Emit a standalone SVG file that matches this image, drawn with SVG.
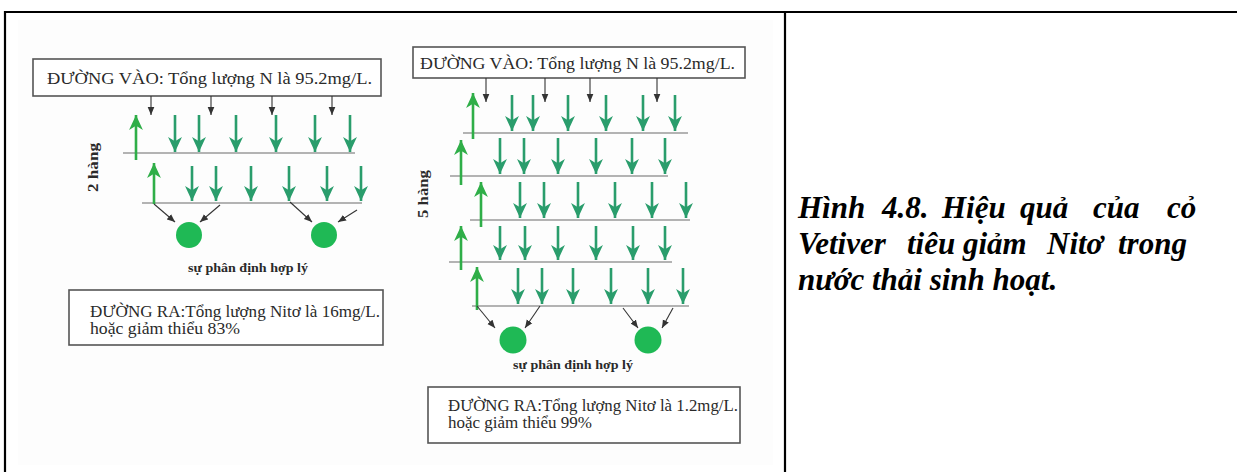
<svg xmlns="http://www.w3.org/2000/svg" width="1237" height="472" viewBox="0 0 1237 472">
<style>
.t{font-family:"Liberation Serif","Times New Roman",serif;fill:#2a2a2a}
.box{fill:#fff;stroke:#555;stroke-width:1.6}
.row{stroke:#6a6a6a;stroke-width:1.2}
.dn{stroke:#2a9d6c;stroke-width:2.6;marker-end:url(#gdn)}
.up{stroke:#2fae48;stroke-width:2.6;marker-end:url(#gup)}
.bk{stroke:#333;stroke-width:1.1;marker-end:url(#bh)}
.dot{fill:#1fb955}
.cap{font-family:"Liberation Serif","Times New Roman",serif;font-weight:bold;font-style:italic;font-size:31px;fill:#000}
</style>
<defs>
<marker id="gdn" markerUnits="userSpaceOnUse" markerWidth="16" markerHeight="16" viewBox="0 -7 15 14" refX="14" refY="0" orient="auto">
<path d="M0,-6.5 L14,0 L0,6.5 L4,0 z" fill="#2a9d6c"/>
</marker>
<marker id="gup" markerUnits="userSpaceOnUse" markerWidth="16" markerHeight="16" viewBox="0 -7 15 14" refX="14" refY="0" orient="auto">
<path d="M0,-6.5 L14,0 L0,6.5 L4,0 z" fill="#2fae48"/>
</marker>
<marker id="bh" markerUnits="userSpaceOnUse" markerWidth="8" markerHeight="8" viewBox="0 -3 6 6" refX="6" refY="0" orient="auto">
<path d="M0,-2.5 L6,0 L0,2.5 z" fill="#333"/>
</marker>
</defs>
<rect width="1237" height="472" fill="#fff"/>
<rect x="18" y="20" width="755" height="445" fill="#fdfdfd"/>
<g id="frame" stroke="#000" stroke-width="2.2">
<line x1="4" y1="12" x2="1237" y2="12"/>
<line x1="5" y1="11" x2="5" y2="472"/>
<line x1="785" y1="11" x2="785" y2="472"/>
</g>

<g id="left-input">
<rect class="box" x="33" y="59" width="348" height="37"/>
<text class="t" x="47" y="84" font-size="17" textLength="325" lengthAdjust="spacingAndGlyphs">ĐƯỜNG VÀO: Tổng lượng N là 95.2mg/L.</text>
</g>
<g id="right-input">
<rect class="box" x="413" y="47" width="332" height="31"/>
<text class="t" x="420" y="69" font-size="16" textLength="315" lengthAdjust="spacingAndGlyphs">ĐƯỜNG VÀO: Tổng lượng N là 95.2mg/L.</text>
</g>

<g id="left-rows">
<line class="row" x1="123" y1="153" x2="355" y2="153"/>
<line class="row" x1="142" y1="203" x2="362" y2="203"/>
</g>
<g id="right-rows">
<line class="row" x1="463" y1="133" x2="688" y2="133"/>
<line class="row" x1="450" y1="176" x2="668" y2="176"/>
<line class="row" x1="470" y1="220" x2="690" y2="220"/>
<line class="row" x1="449" y1="262" x2="672" y2="262"/>
<line class="row" x1="472" y1="306" x2="689" y2="306"/>
</g>

<g id="left-plants">
<line class="up" x1="136" y1="160" x2="136" y2="115"/>
<line class="dn" x1="175" y1="115" x2="175" y2="152"/>
<line class="dn" x1="199" y1="115" x2="199" y2="152"/>
<line class="dn" x1="236" y1="115" x2="236" y2="152"/>
<line class="dn" x1="276" y1="115" x2="276" y2="152"/>
<line class="dn" x1="315" y1="115" x2="315" y2="152"/>
<line class="dn" x1="350" y1="115" x2="350" y2="152"/>
<line class="up" x1="154" y1="204" x2="154" y2="163"/>
<line class="dn" x1="192" y1="166" x2="192" y2="201"/>
<line class="dn" x1="216" y1="166" x2="216" y2="201"/>
<line class="dn" x1="251" y1="166" x2="251" y2="201"/>
<line class="dn" x1="289" y1="166" x2="289" y2="201"/>
<line class="dn" x1="327" y1="166" x2="327" y2="201"/>
<line class="dn" x1="361" y1="166" x2="361" y2="201"/>
</g>

<g id="right-plants">
<line class="up" x1="473" y1="139" x2="473" y2="93"/>
<line class="dn" x1="512" y1="95" x2="512" y2="131"/>
<line class="dn" x1="533" y1="95" x2="533" y2="131"/>
<line class="dn" x1="568" y1="95" x2="568" y2="131"/>
<line class="dn" x1="606" y1="95" x2="606" y2="131"/>
<line class="dn" x1="643" y1="95" x2="643" y2="131"/>
<line class="dn" x1="675" y1="95" x2="675" y2="131"/>
<line class="up" x1="461" y1="185" x2="461" y2="140"/>
<line class="dn" x1="500" y1="138" x2="500" y2="174"/>
<line class="dn" x1="524" y1="138" x2="524" y2="174"/>
<line class="dn" x1="558" y1="138" x2="558" y2="174"/>
<line class="dn" x1="596" y1="138" x2="596" y2="174"/>
<line class="dn" x1="632" y1="138" x2="632" y2="174"/>
<line class="dn" x1="665" y1="138" x2="665" y2="174"/>
<line class="up" x1="481" y1="227" x2="481" y2="182"/>
<line class="dn" x1="520" y1="182" x2="520" y2="218"/>
<line class="dn" x1="544" y1="182" x2="544" y2="218"/>
<line class="dn" x1="578" y1="182" x2="578" y2="218"/>
<line class="dn" x1="615" y1="182" x2="615" y2="218"/>
<line class="dn" x1="652" y1="182" x2="652" y2="218"/>
<line class="dn" x1="686" y1="182" x2="686" y2="218"/>
<line class="up" x1="461" y1="270" x2="461" y2="226"/>
<line class="dn" x1="500" y1="226" x2="500" y2="260"/>
<line class="dn" x1="525" y1="226" x2="525" y2="260"/>
<line class="dn" x1="558" y1="226" x2="558" y2="260"/>
<line class="dn" x1="596" y1="226" x2="596" y2="260"/>
<line class="dn" x1="633" y1="226" x2="633" y2="260"/>
<line class="dn" x1="665" y1="226" x2="665" y2="260"/>
<line class="up" x1="477" y1="310" x2="477" y2="267"/>
<line class="dn" x1="518" y1="268" x2="518" y2="304"/>
<line class="dn" x1="542" y1="268" x2="542" y2="304"/>
<line class="dn" x1="573" y1="268" x2="573" y2="304"/>
<line class="dn" x1="611" y1="268" x2="611" y2="304"/>
<line class="dn" x1="648" y1="268" x2="648" y2="304"/>
<line class="dn" x1="683" y1="268" x2="683" y2="304"/>
</g>

<g id="connectors">
<line class="bk" x1="151" y1="96" x2="151" y2="115"/>
<line class="bk" x1="211" y1="96" x2="211" y2="115"/>
<line class="bk" x1="272" y1="96" x2="272" y2="115"/>
<line class="bk" x1="332" y1="96" x2="332" y2="115"/>
<line class="bk" x1="486" y1="78" x2="486" y2="102"/>
<line class="bk" x1="545" y1="78" x2="545" y2="102"/>
<line class="bk" x1="590" y1="78" x2="590" y2="102"/>
<line class="bk" x1="657" y1="78" x2="657" y2="102"/>
<line class="bk" x1="154" y1="204" x2="175" y2="222"/>
<line class="bk" x1="220" y1="205" x2="200" y2="222"/>
<line class="bk" x1="290" y1="202" x2="312" y2="222"/>
<line class="bk" x1="357" y1="210" x2="338" y2="222"/>
<line class="bk" x1="477" y1="306" x2="495" y2="328"/>
<line class="bk" x1="540" y1="306" x2="525" y2="328"/>
<line class="bk" x1="623" y1="308" x2="638" y2="328"/>
<line class="bk" x1="673" y1="308" x2="662" y2="328"/>
</g>

<g id="left-outlets">
<circle class="dot" cx="189" cy="235" r="13"/>
<circle class="dot" cx="324" cy="235" r="13"/>
<text class="t" x="188" y="272" font-size="12.5" font-weight="bold" textLength="120" lengthAdjust="spacingAndGlyphs">sự phân định hợp lý</text>
</g>
<g id="right-outlets">
<circle class="dot" cx="513" cy="340" r="13.5"/>
<circle class="dot" cx="648" cy="340" r="13.5"/>
<text class="t" x="513" y="369" font-size="12.5" font-weight="bold" textLength="120" lengthAdjust="spacingAndGlyphs">sự phân định hợp lý</text>
</g>

<g id="left-rows-label">
<text class="t" transform="translate(98 192) rotate(-90)" font-size="14" font-weight="bold" textLength="49" lengthAdjust="spacingAndGlyphs">2 hàng</text>
</g>
<g id="right-rows-label">
<text class="t" transform="translate(428 218) rotate(-90)" font-size="14" font-weight="bold" textLength="48" lengthAdjust="spacingAndGlyphs">5 hàng</text>
</g>

<g id="left-output">
<rect class="box" x="69" y="290" width="314" height="55"/>
<text class="t" x="90" y="317" font-size="17" textLength="290" lengthAdjust="spacingAndGlyphs">ĐƯỜNG RA:Tổng lượng Nitơ là 16mg/L.</text>
<text class="t" x="90" y="334" font-size="17" textLength="150" lengthAdjust="spacingAndGlyphs">hoặc giảm thiểu 83%</text>
</g>
<g id="right-output">
<rect class="box" x="428" y="387" width="312" height="56"/>
<text class="t" x="448" y="411" font-size="16.5" textLength="290" lengthAdjust="spacingAndGlyphs">ĐƯỜNG RA:Tổng lượng Nitơ là 1.2mg/L.</text>
<text class="t" x="448" y="428" font-size="16.5" textLength="144" lengthAdjust="spacingAndGlyphs">hoặc giảm thiểu 99%</text>
</g>

<g id="caption">
<text class="cap" y="218"><tspan x="798">Hình</tspan><tspan x="882">4.8.</tspan><tspan x="942">Hiệu</tspan><tspan x="1020">quả</tspan><tspan x="1093">của</tspan><tspan x="1167">cỏ</tspan></text>
<text class="cap" y="254"><tspan x="798">Vetiver</tspan><tspan x="907">tiêu</tspan><tspan x="963">giảm</tspan><tspan x="1047">Nitơ</tspan><tspan x="1118">trong</tspan></text>
<text class="cap" x="798" y="290">nước thải sinh hoạt.</text>
</g>
</svg>
